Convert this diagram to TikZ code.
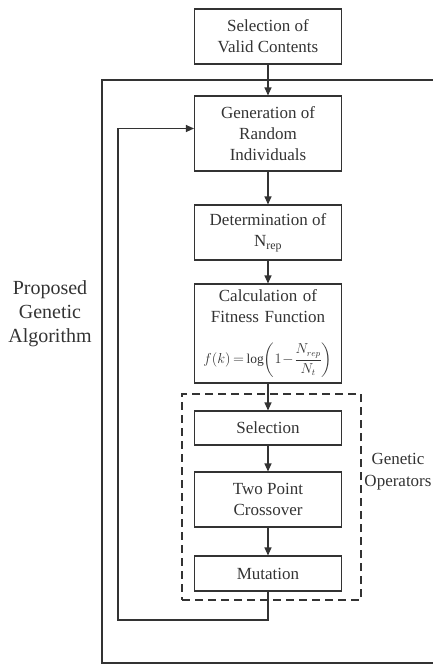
\documentclass[tikz,border=0pt]{standalone}
\usepackage{amsmath}
\usepackage{fontspec}
\setmainfont{Liberation Serif}
\usepackage{tikz}
\usetikzlibrary{arrows.meta}

\begin{document}
\begin{tikzpicture}[x=1pt,y=-1pt]
               \tikzstyle{myBox}=[draw, line width=1.1pt, minimum width=147pt, inner sep=0pt, align=center, font=\fontsize{17}{21}\selectfont]
               \tikzstyle{myArr}=[line width=1.1pt, -{Triangle[length=8pt,width=7pt]}]
               \tikzstyle{myTxt}=[align=center, inner sep=0pt]

               \useasboundingbox (0,0) rectangle (433,664);

               \begin{scope}[black!80, text=black!80]
               % outer frame
               \draw[line width=1.1pt] (440,80) -| (102,663) -- (440,663);

               \node[myBox, minimum height=55pt] (valid) at (268,36.5) {Selection of\\Valid Contents};
               \node[myBox, minimum height=75pt] (gen) at (268,133.5) {Generation of\\Random\\Individuals};
               \node[myBox, minimum height=55pt] (nrep) at (268,232.5) {Determination of\\N\textsubscript{rep}};
               \node[myBox, text width=145pt, minimum height=99pt] (fit) at (268,333.5) {Calculation of\\Fitness Function\\[19pt]
                  {\fontsize{13.5}{14}\selectfont$\displaystyle f(k)\!=\!\log\!\left(1\!-\!\frac{N_{rep}}{N_t}\right)$}\\[-8pt]};
               \node[myBox, minimum height=34pt] (sel) at (268,428) {Selection};
               \node[myBox, minimum height=55pt] (cross) at (268,499.5) {Two Point\\Crossover};
               \node[myBox, minimum height=35pt] (mut) at (268,573.5) {Mutation};

               \node[draw, line width=1.4pt, dash pattern=on 8pt off 5pt, minimum width=179pt, minimum height=206pt] (ops) at (271.5,497) {};
               \node[myTxt, font=\fontsize{17}{22}\selectfont] (opsTxt) at (398,472) {Genetic\\Operators};
               \node[myTxt, font=\fontsize{20}{24}\selectfont] (gaTxt) at (50,314) {Proposed\\Genetic\\Algorithm};

               \coordinate (back) at (118,620);

               \draw[myArr] (valid) -- (gen);
               \draw[myArr] (gen) -- (nrep);
               \draw[myArr] (nrep) -- (fit);
               \draw[myArr] (fit) -- (sel);
               \draw[myArr] (sel) -- (cross);
               \draw[myArr] (cross) -- (mut);
               \draw[myArr] (mut.south) |- (back) |- ([yshift=5pt]gen.west);
               \end{scope}
            \end{tikzpicture}
\end{document}
